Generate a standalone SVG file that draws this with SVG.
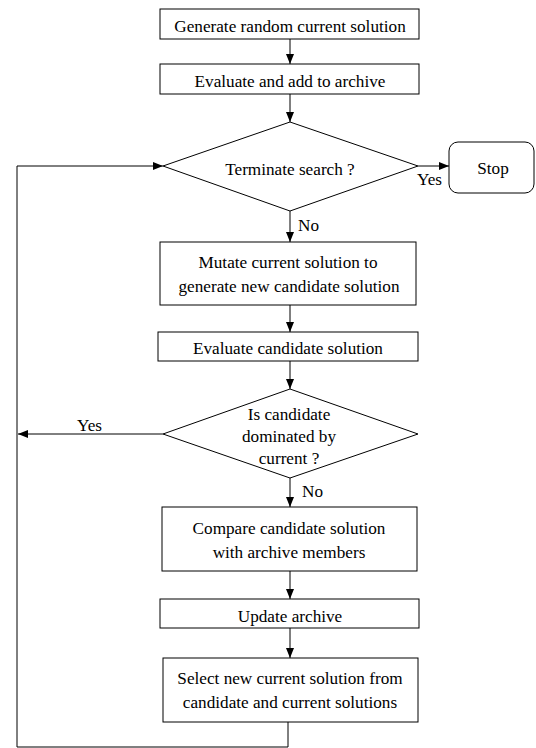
<svg xmlns="http://www.w3.org/2000/svg" width="536" height="748" viewBox="0 0 536 748">
<defs>
<marker id="ah" markerWidth="10" markerHeight="8" refX="10" refY="4" orient="auto" markerUnits="userSpaceOnUse">
<path d="M0,0 L10,4 L0,8 Z" fill="#000"/>
</marker>
<style>
.n{fill:#fff;stroke:#000;stroke-width:1}
.c{fill:none;stroke:#000;stroke-width:1}
.a{marker-end:url(#ah)}
.m{text-anchor:middle}
</style>
</defs>
<rect width="536" height="748" fill="#fff"/>
<g font-family="'Liberation Serif', 'Times New Roman', Times, serif" font-size="17.2" fill="#000">
<g id="connectors">
<line class="c a" x1="290" y1="39" x2="290" y2="64"/>
<line class="c a" x1="290" y1="94" x2="290" y2="122"/>
<line class="c a" x1="418" y1="166" x2="449" y2="166"/>
<line class="c a" x1="290" y1="211" x2="290" y2="242"/>
<line class="c a" x1="290" y1="305" x2="290" y2="332"/>
<line class="c a" x1="290" y1="361" x2="290" y2="389"/>
<line class="c a" x1="163" y1="434" x2="18" y2="434"/>
<line class="c a" x1="290" y1="478" x2="290" y2="507"/>
<line class="c a" x1="290" y1="571" x2="290" y2="599"/>
<line class="c a" x1="290" y1="628" x2="290" y2="658"/>
<polyline class="c a" points="288,722 288,747 17,747 17,166 163,166"/>
<text x="417" y="185">Yes</text>
<text x="298" y="231">No</text>
<text x="77" y="431">Yes</text>
<text x="302" y="497">No</text>
</g>
<g id="n1"><rect class="n" x="160" y="9" width="259" height="30"/><text class="m" x="290" y="31.5">Generate random current solution</text></g>
<g id="n2"><rect class="n" x="160" y="64" width="259" height="30"/><text class="m" x="290" y="87">Evaluate and add to archive</text></g>
<g id="n3"><polygon class="n" points="290,122 418,166 290,211 163,166"/><text class="m" x="290" y="175">Terminate search ?</text></g>
<g id="n4"><rect class="n" x="449" y="142" width="85" height="51" rx="9" ry="9"/><text class="m" x="493" y="174">Stop</text></g>
<g id="n5"><rect class="n" x="160" y="242" width="256" height="63"/><text class="m" x="288" y="268">Mutate current solution to</text><text class="m" x="289" y="292">generate new candidate solution</text></g>
<g id="n6"><rect class="n" x="158" y="332" width="260" height="29"/><text class="m" x="288" y="354">Evaluate candidate solution</text></g>
<g id="n7"><polygon class="n" points="290,389 418,434 290,478 163,434"/><text class="m" x="289" y="420">Is candidate</text><text class="m" x="289" y="442">dominated by</text><text class="m" x="289" y="464">current ?</text></g>
<g id="n8"><rect class="n" x="162" y="507" width="255" height="64"/><text class="m" x="289" y="534">Compare candidate solution</text><text class="m" x="289" y="558">with archive members</text></g>
<g id="n9"><rect class="n" x="160" y="599" width="259" height="29"/><text class="m" x="290" y="622">Update archive</text></g>
<g id="n10"><rect class="n" x="163" y="658" width="255" height="64"/><text class="m" x="290" y="684">Select new current solution from</text><text class="m" x="290" y="708">candidate and current solutions</text></g>
</g>
</svg>
